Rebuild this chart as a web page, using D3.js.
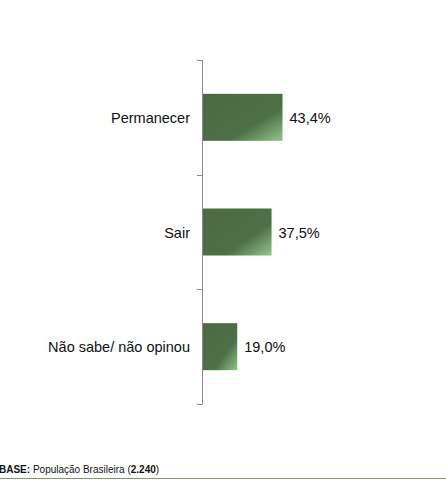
<!DOCTYPE html>
<html><head><meta charset="utf-8">
<script src="https://cdn.jsdelivr.net/npm/d3@7"></script>
<style>body{margin:0;background:#fff;}svg{display:block;font-family:"Liberation Sans",Arial,sans-serif;}</style>
</head><body><svg id="c" width="446" height="481"></svg>
<script>
const categories = ["Permanecer", "Sair", "Não sabe/ não opinou"];
const values = [43.4, 37.5, 19.0];
const valueLabels = ["43,4%", "37,5%", "19,0%"];

const svg = d3.select("#c");
const defs = svg.append("defs");
const grad = defs.append("linearGradient").attr("id","g").attr("x1","0").attr("y1","0").attr("x2","1").attr("y2","1");
grad.append("stop").attr("offset","0").attr("stop-color","#4a6b42");
grad.append("stop").attr("offset","0.65").attr("stop-color","#4e7046");
grad.append("stop").attr("offset","1").attr("stop-color","#93c48e");

const x0 = 202;
const x = d3.scaleLinear().domain([0, 43.4]).range([x0, 282.5]);
const y = d3.scaleBand().domain(categories).range([60, 404]).paddingInner(0.59).paddingOuter(0.295);

const g = svg.append("g").attr("transform", `translate(${x0},0)`);
g.append("line").attr("x1",0.5).attr("x2",0.5).attr("y1",60).attr("y2",404).attr("stroke","#8c8c8c");
const step = y.step();
const tickYs = d3.range(categories.length + 1).map(i => 60 + i * step);
g.selectAll(".tk").data(tickYs).join("line")
  .attr("x1",-5).attr("x2",0.5).attr("y1",d=>Math.round(d)+0.5).attr("y2",d=>Math.round(d)+0.5).attr("stroke","#8c8c8c");

svg.selectAll(".bar").data(values).join("rect")
  .attr("x", x0 + 1)
  .attr("y", (d,i)=>y(categories[i]))
  .attr("width", d=>x(d)-x0-1)
  .attr("height", y.bandwidth())
  .attr("fill","url(#g)");

svg.selectAll(".vl").data(values).join("text")
  .attr("x", d=>x(d)+7)
  .attr("y", (d,i)=>y(categories[i]) + y.bandwidth()/2 + 5.5)
  .attr("font-size","14.5px").attr("fill","#111")
  .text((d,i)=>valueLabels[i]);

svg.selectAll(".cl").data(categories).join("text")
  .attr("x", 190)
  .attr("y", d=>y(d) + y.bandwidth()/2 + 5.5)
  .attr("text-anchor","end")
  .attr("font-size","14.5px").attr("fill","#111")
  .text(d=>d);

const ft = svg.append("text").attr("x",-1).attr("y",473).attr("font-size","10px").attr("fill","#111");
ft.append("tspan").attr("font-weight","bold").text("BASE:");
ft.append("tspan").text(" População Brasileira (");
ft.append("tspan").attr("font-weight","bold").text("2.240");
ft.append("tspan").text(")");
svg.append("line").attr("x1",0).attr("x2",446).attr("y1",478.5).attr("y2",478.5).attr("stroke","#7f9a6a").attr("stroke-width",1);
</script></body></html>
